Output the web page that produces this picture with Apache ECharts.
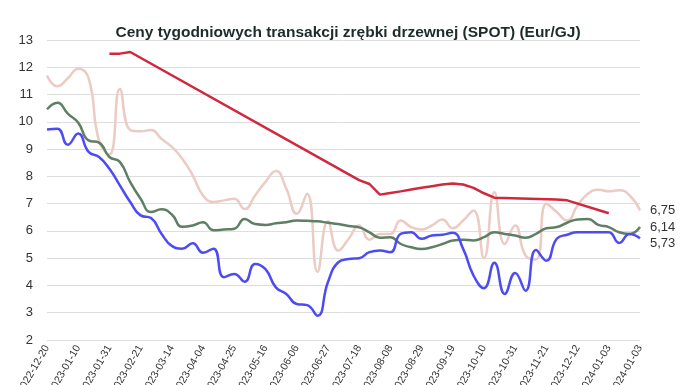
<!DOCTYPE html>
<html>
<head>
<meta charset="utf-8">
<script src="https://cdn.jsdelivr.net/npm/echarts@6/dist/echarts.min.js"></script>
<style>html,body{margin:0;padding:0;background:#fff}#c{width:696px;height:385px}</style>
</head>
<body>
<div id="c"></div>
<script>
const titleText = 'Ceny tygodniowych transakcji zrębki drzewnej (SPOT) (Eur/GJ)';
const tickLabels = ['2022-12-20','2023-01-10','2023-01-31','2023-02-21','2023-03-14','2023-04-04','2023-04-25','2023-05-16','2023-06-06','2023-06-27','2023-07-18','2023-08-08','2023-08-29','2023-09-19','2023-10-10','2023-10-31','2023-11-21','2023-12-12','2024-01-03','2024-01-03'];
const weekCount = 58;
const weeks = Array.from({length: weekCount}, (_, i) => 'w' + i);

const pink = [11.7,11.3,11.6,11.95,11.6,9.3,8.8,11.2,9.7,9.65,9.7,9.38,9.08,8.65,8.04,7.3,7.06,7.12,7.18,6.8,7.3,7.8,8.2,7.55,6.63,7.36,4.5,6.35,5.28,5.71,6.2,5.68,5.89,5.89,6.38,6.14,6.05,6.2,6.42,6.1,6.38,6.75,5.0,7.42,5.52,6.2,5.1,4.95,7.0,6.69,6.38,6.93,7.36,7.51,7.45,7.49,7.3,6.75];
const green = [10.46,10.7,10.3,9.97,9.32,9.24,8.71,8.53,7.79,7.18,6.69,6.79,6.6,6.15,6.2,6.32,6.02,6.05,6.08,6.44,6.25,6.22,6.28,6.32,6.38,6.37,6.35,6.3,6.25,6.18,6.13,5.95,5.75,5.77,5.52,5.4,5.34,5.4,5.52,5.65,5.68,5.65,5.77,5.95,5.89,5.83,5.75,5.89,6.1,6.14,6.3,6.42,6.44,6.22,6.14,5.95,5.89,6.14];
const blue = [9.72,9.75,9.16,9.57,8.9,8.71,8.28,7.67,7.06,6.57,6.47,5.9,5.45,5.35,5.55,5.2,5.35,4.3,4.42,4.14,4.79,4.6,3.93,3.69,3.32,3.28,2.89,4.12,4.85,4.97,5.0,5.22,5.28,5.22,5.89,5.95,5.71,5.83,5.86,5.93,5.34,4.36,3.9,4.83,3.69,4.46,3.81,5.3,4.91,5.71,5.86,5.95,5.95,5.95,5.95,5.56,5.89,5.73];
const red = [null,null,null,null,null,null,12.5,12.5,12.56,null,null,null,null,null,null,null,null,null,null,null,null,null,null,null,null,null,null,null,null,null,7.86,7.72,7.33,7.39,7.45,7.52,7.58,7.64,7.7,7.74,7.7,7.58,7.38,7.22,null,null,null,null,null,7.15,7.12,null,null,null,6.65,null,null,null];

const chart = echarts.init(document.getElementById('c'), null, {renderer: 'canvas'});
const endLbl = () => ({
  show: true, formatter: p => Number(p.value).toFixed(2).replace('.', ','),
  color: '#333', fontSize: 13, fontFamily: 'Liberation Sans, Arial, sans-serif',
  distance: 10
});
chart.setOption({
  animation: false,
  title: {
    text: titleText, left: 'center', top: 20,
    textStyle: {fontSize: 15.5, fontWeight: 'bold', color: '#1d2b2a', fontFamily: 'Liberation Sans, Arial, sans-serif'}
  },
  grid: {left: 47, right: 56, top: 40, bottom: 45, outerBoundsMode: 'none', containLabel: false},
  xAxis: {
    type: 'category', data: weeks, boundaryGap: false,
    axisLine: {show: false}, axisTick: {show: false},
    axisLabel: {
      interval: 2, rotate: 60, margin: 6, fontSize: 10.5, color: '#333',
      fontFamily: 'Liberation Sans, Arial, sans-serif',
      formatter: (v, i) => (i % 3 === 0 ? tickLabels[i / 3] : '')
    },
    splitLine: {show: false}
  },
  yAxis: {
    type: 'value', min: 2, max: 13, interval: 1,
    axisLine: {show: false}, axisTick: {show: false},
    axisLabel: {fontSize: 13, color: '#333', margin: 14, fontFamily: 'Liberation Sans, Arial, sans-serif'},
    splitLine: {lineStyle: {color: '#dedede', width: 1}}
  },
  series: [
    {type: 'line', data: pink, smooth: 0.5, symbol: 'none', lineStyle: {color: '#ebcbc3', width: 2.5}, endLabel: endLbl()},
    {type: 'line', data: green, smooth: 0.5, symbol: 'none', lineStyle: {color: '#5e7f64', width: 2.5}, endLabel: endLbl()},
    {type: 'line', data: blue, smooth: 0.5, symbol: 'none', lineStyle: {color: '#4c4cf2', width: 2.5}, endLabel: endLbl(),
     labelLayout: {dy: 5}, labelLine: {show: true, length2: 4, lineStyle: {color: '#aaaaaa', width: 1}}},
    {type: 'line', data: red, smooth: false, connectNulls: true, symbol: 'none', lineStyle: {color: '#d0283c', width: 2.5}}
  ]
});
</script>
</body>
</html>
